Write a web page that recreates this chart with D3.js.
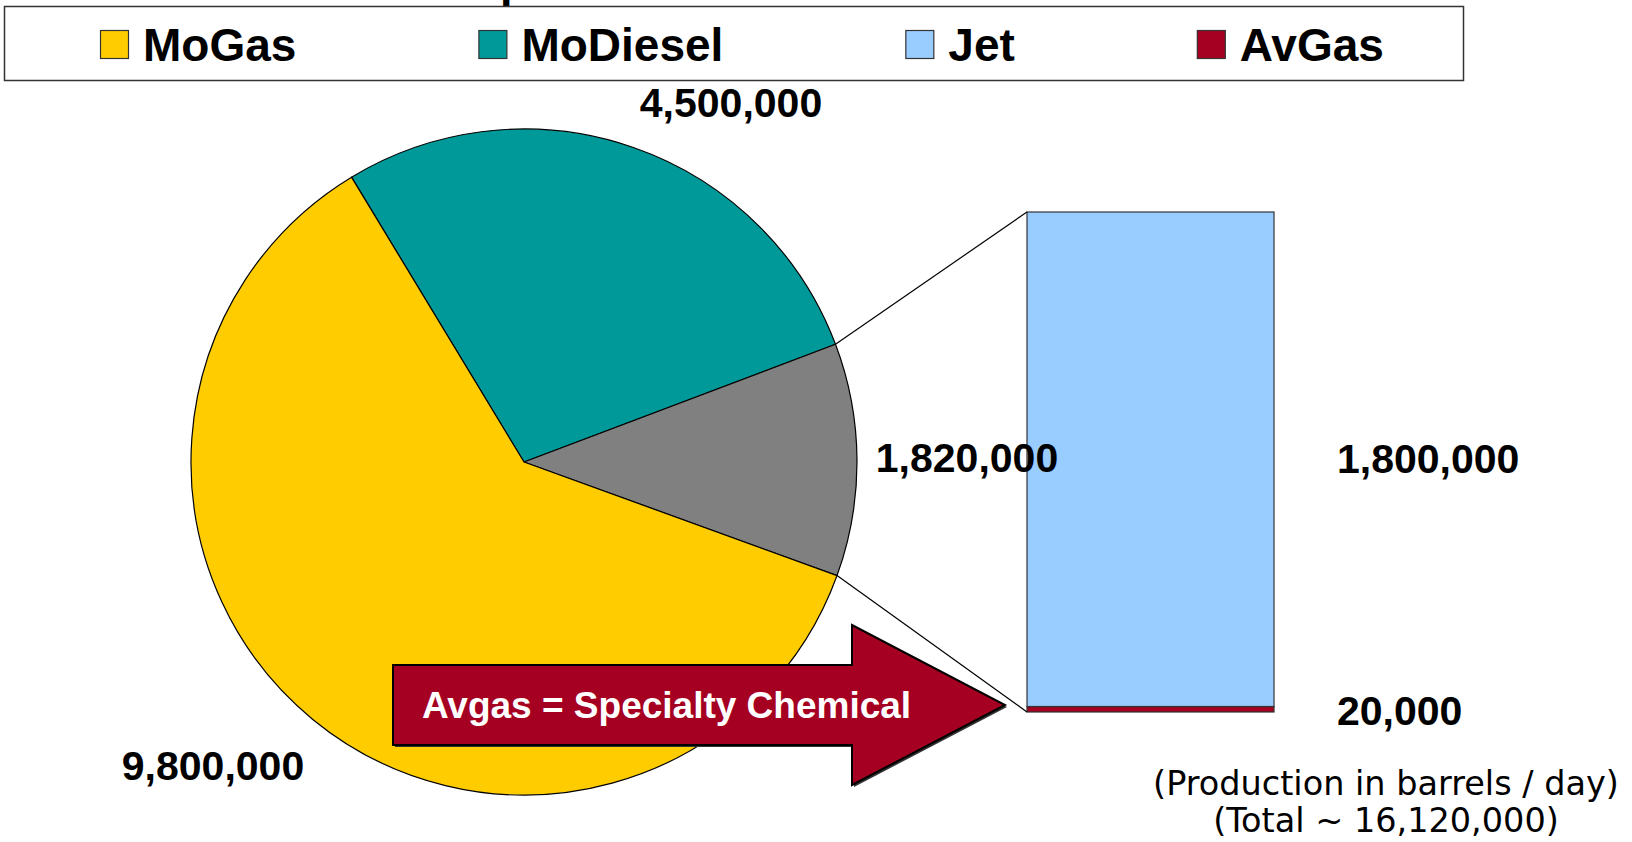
<!DOCTYPE html>
<html>
<head>
<meta charset="utf-8">
<script src="https://cdn.jsdelivr.net/npm/d3@7"></script>
<style>
  body { margin: 0; background: #fff; }
  svg { display: block; font-family: "Liberation Sans", Arial, sans-serif; }
</style>
</head>
<body>
<svg width="1632" height="842"></svg>
<script>
// pie: MoDiesel, rest (Jet + AvGas), MoGas
const pieNames = ["MoDiesel", "Jet + AvGas", "MoGas"];
const pieValues = [4500000, 1820000, 9800000];
const pieColors = ["#009999", "#808080", "#FFCC00"];
const pieLabels = ["4,500,000", "1,820,000", "9,800,000"];

// bar of pie, bottom to top
const barNames = ["AvGas", "Jet"];
const barValues = [20000, 1800000];
const barColors = ["#A50021", "#99CCFF"];
const barLabels = ["20,000", "1,800,000"];

const legendNames = ["MoGas", "MoDiesel", "Jet", "AvGas"];
const legendColors = ["#FFCC00", "#009999", "#99CCFF", "#A50021"];

const notes = ["(Production in barrels / day)", "(Total ~ 16,120,000)"];

const svg = d3.select("svg");

// cut-off title descender at the very top
svg.append("text")
    .attr("x", 500)
    .attr("y", -2)
    .attr("font-size", "45px")
    .attr("font-weight", "bold")
    .text("p");

// legend
const legend = svg.append("g");
legend.append("rect")
    .attr("x", 4.5).attr("y", 6.5)
    .attr("width", 1459).attr("height", 74)
    .attr("fill", "#fff")
    .attr("stroke", "#333")
    .attr("stroke-width", 1.5);
let lx = 100;
legendNames.forEach(function(name, i) {
    legend.append("rect")
        .attr("x", lx + 0.5).attr("y", 30.5)
        .attr("width", 28).attr("height", 28)
        .attr("fill", legendColors[i])
        .attr("stroke", "#333")
        .attr("stroke-width", 1.2);
    const t = legend.append("text")
        .attr("x", lx + 43)
        .attr("y", 61)
        .attr("font-size", "46px")
        .attr("font-weight", "bold")
        .text(name);
    lx = lx + 43 + t.node().getComputedTextLength() + 182;
});

// pie
const cx = 524, cy = 462, r = 333;
const startA = -31.2 * Math.PI / 180;
const pie = d3.pie().sort(null).startAngle(startA).endAngle(startA + 2 * Math.PI);
const arcs = pie(pieValues);
const arc = d3.arc().innerRadius(0).outerRadius(r);

const pg = svg.append("g").attr("transform", "translate(" + cx + "," + cy + ")");
pg.selectAll("path").data(arcs).enter()
    .append("path")
    .attr("d", arc)
    .attr("fill", function(d, i) { return pieColors[i]; })
    .attr("stroke", "#000")
    .attr("stroke-width", 1.2)
    .attr("stroke-linejoin", "round");

// bar
const barX = 1027, barW = 247;
const y = d3.scaleLinear()
    .domain([0, d3.sum(barValues)])
    .range([712, 212]);
const stack = d3.cumsum(barValues);
const bg = svg.append("g");
bg.selectAll("rect").data(barValues).enter()
    .append("rect")
    .attr("x", barX)
    .attr("y", function(d, i) { return y(stack[i]); })
    .attr("width", barW)
    .attr("height", function(d, i) { return y(stack[i] - d) - y(stack[i]); })
    .attr("fill", function(d, i) { return barColors[i]; })
    .attr("stroke", "#333")
    .attr("stroke-width", 1.2);

// connector lines from the grey slice to the bar
const rest = arcs[1];
function edge(a) { return [cx + r * Math.sin(a), cy - r * Math.cos(a)]; }
const p0 = edge(rest.startAngle), p1 = edge(rest.endAngle);
svg.append("line")
    .attr("x1", p0[0]).attr("y1", p0[1])
    .attr("x2", barX).attr("y2", y(d3.sum(barValues)))
    .attr("stroke", "#000").attr("stroke-width", 1.2);
svg.append("line")
    .attr("x1", p1[0]).attr("y1", p1[1])
    .attr("x2", barX).attr("y2", y(0))
    .attr("stroke", "#000").attr("stroke-width", 1.2);

// value labels (centre x, baseline)
const pieLabelPos = [[731, 117], [967, 472], [213, 780]];
pieLabels.forEach(function(lab, i) {
    svg.append("text")
        .attr("x", pieLabelPos[i][0])
        .attr("y", pieLabelPos[i][1])
        .attr("text-anchor", "middle")
        .attr("font-size", "41px")
        .attr("font-weight", "bold")
        .text(lab);
});
const barLabelY = [725, 473];
barLabels.forEach(function(lab, i) {
    svg.append("text")
        .attr("x", 1337)
        .attr("y", barLabelY[i])
        .attr("font-size", "41px")
        .attr("font-weight", "bold")
        .text(lab);
});

// arrow
const arrowPts = [[393, 665], [852, 665], [852, 625], [1005, 705], [852, 785], [852, 745], [393, 745]];
svg.append("polygon")
    .attr("points", arrowPts.map(function(p) { return (p[0] + 2) + "," + (p[1] + 2); }).join(" "))
    .attr("fill", "#333");
svg.append("polygon")
    .attr("points", arrowPts.map(function(p) { return p.join(","); }).join(" "))
    .attr("fill", "#A50021")
    .attr("stroke", "#000")
    .attr("stroke-width", 2)
    .attr("stroke-linejoin", "miter");
svg.append("text")
    .attr("x", 422)
    .attr("y", 718)
    .attr("fill", "#fff")
    .attr("font-size", "37px")
    .attr("font-weight", "bold")
    .text("Avgas = Specialty Chemical");

// notes
notes.forEach(function(n, i) {
    svg.append("text")
        .attr("x", 1386)
        .attr("y", 795 + i * 37)
        .attr("text-anchor", "middle")
        .attr("font-family", "'DejaVu Sans', Verdana, sans-serif")
        .attr("font-size", "33.5px")
        .text(n);
});
</script>
</body>
</html>
